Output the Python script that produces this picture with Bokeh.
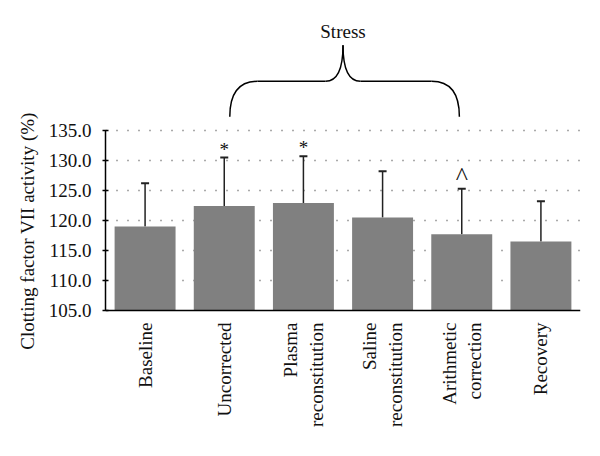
import numpy as np
from bokeh.plotting import figure
from bokeh.models import (FactorRange, Range1d, FixedTicker, Whisker, TeeHead,
                          ColumnDataSource, PrintfTickFormatter)
from bokeh.core.properties import value
from bokeh.embed import file_html
from bokeh.resources import INLINE

categories = ["Baseline", "Uncorrected", "Plasma reconstitution",
              "Saline reconstitution", "Arithmetic correction", "Recovery"]
tick_labels = ["Baseline", "Uncorrected", "Plasma\nreconstitution",
               "Saline\nreconstitution", "Arithmetic\ncorrection", "Recovery"]
means = [119.0, 122.4, 122.9, 120.5, 117.7, 116.5]
errors = [7.2, 8.1, 7.8, 7.7, 7.6, 6.7]
marks = ["", "*", "*", "", "^", ""]
yticks = [105.0, 110.0, 115.0, 120.0, 125.0, 130.0, 135.0]
group_label = "Stress"
group_first, group_last = 1, 4

FONT = "Liberation Serif"
FS = "19px"
TXT = "#111111"
Y0, Y1 = yticks[0], yticks[-1]

p = figure(width=600, height=456, output_backend="svg", toolbar_location=None,
           x_range=FactorRange(*categories, range_padding=0),
           y_range=Range1d(82.33, 154.17),
           min_border_left=105, min_border_right=20, min_border_top=15,
           min_border_bottom=10)
p.outline_line_color = None
p.background_fill_color = "white"
p.xaxis.visible = False

upper = [m + e for m, e in zip(means, errors)]
mark_size = [{"^": "26px"}.get(m, FS) for m in marks]
src = ColumnDataSource(dict(x=categories, top=means, upper=upper, mark=marks,
                            msize=mark_size, label=tick_labels))

p.vbar(x="x", top="top", bottom=Y0, width=0.77, source=src,
       fill_color="#808080", line_color=None)

w = Whisker(base="x", lower="top", upper="upper", source=src,
            line_color="#222222", line_width=1.5,
            upper_head=TeeHead(size=8, line_color="#222222", line_width=2),
            lower_head=None)
p.add_layout(w)

p.text(x="x", y="upper", text="mark", source=src, text_align="center",
       text_baseline="bottom", text_font=value(FONT), text_font_size="msize",
       text_color=TXT, y_offset=2)

# x axis line and category labels
p.segment(x0=[0], y0=[Y0], x1=[len(categories)], y1=[Y0], line_color="black",
          line_width=1.5)
p.text(x="x", y=Y0, text="label", source=src, angle=np.pi / 2,
       text_align="right", text_baseline="middle", text_font=value(FONT),
       text_font_size=FS, text_color=TXT, y_offset=12)

# brace over stress conditions
x0 = group_first + 0.5 + 0.07
x1 = group_last + 0.5 - 0.03
xc = (group_first + group_last) / 2 + 0.5
yb, yh, yp = 137.3, 143.2, 149.2
r = 0.35
rc = 0.22
p.segment(x0=[x0 + r, xc + rc], y0=[yh, yh], x1=[xc - rc, x1 - r], y1=[yh, yh],
          line_color="black", line_width=1.5)
p.quadratic(x0=[x0, x1, xc - rc, xc + rc], y0=[yb, yb, yh, yh],
            x1=[x0 + r, x1 - r, xc, xc], y1=[yh, yh, yp, yp],
            cx=[x0, x1, xc, xc], cy=[yh, yh, yh, yh],
            line_color="black", line_width=1.5)
p.text(x=[xc], y=[151.5], text=[group_label], text_align="center",
       text_baseline="middle", text_font=value(FONT), text_font_size=FS,
       text_color=TXT)

# y axis
p.yaxis.ticker = FixedTicker(ticks=yticks)
p.yaxis.bounds = (Y0, Y1)
p.yaxis.formatter = PrintfTickFormatter(format="%.1f")
p.yaxis.axis_label = "Clotting factor VII activity (%)"
p.yaxis.axis_label_text_font = FONT
p.yaxis.axis_label_text_font_style = "normal"
p.yaxis.axis_label_text_font_size = FS
p.yaxis.axis_label_text_color = TXT
p.yaxis.major_label_text_font = FONT
p.yaxis.major_label_text_font_size = FS
p.yaxis.major_label_text_color = TXT
p.yaxis.major_tick_in = 3
p.yaxis.major_tick_out = 3
p.yaxis.major_tick_line_color = "black"
p.yaxis.major_tick_line_width = 1.5
p.yaxis.minor_tick_in = 0
p.yaxis.minor_tick_out = 0
p.yaxis.major_label_standoff = 11
p.yaxis.axis_label_standoff = 8
p.yaxis.axis_line_color = "black"
p.yaxis.axis_line_width = 1.5

p.xgrid.grid_line_color = None
p.ygrid.grid_line_color = "#555555"
p.ygrid.grid_line_dash = "1 10"
p.ygrid.grid_line_width = 1.5
p.ygrid.bounds = (Y0, Y1)
p.ygrid.ticker = FixedTicker(ticks=yticks[1:])

open("out.html", "w").write(file_html(p, INLINE))
